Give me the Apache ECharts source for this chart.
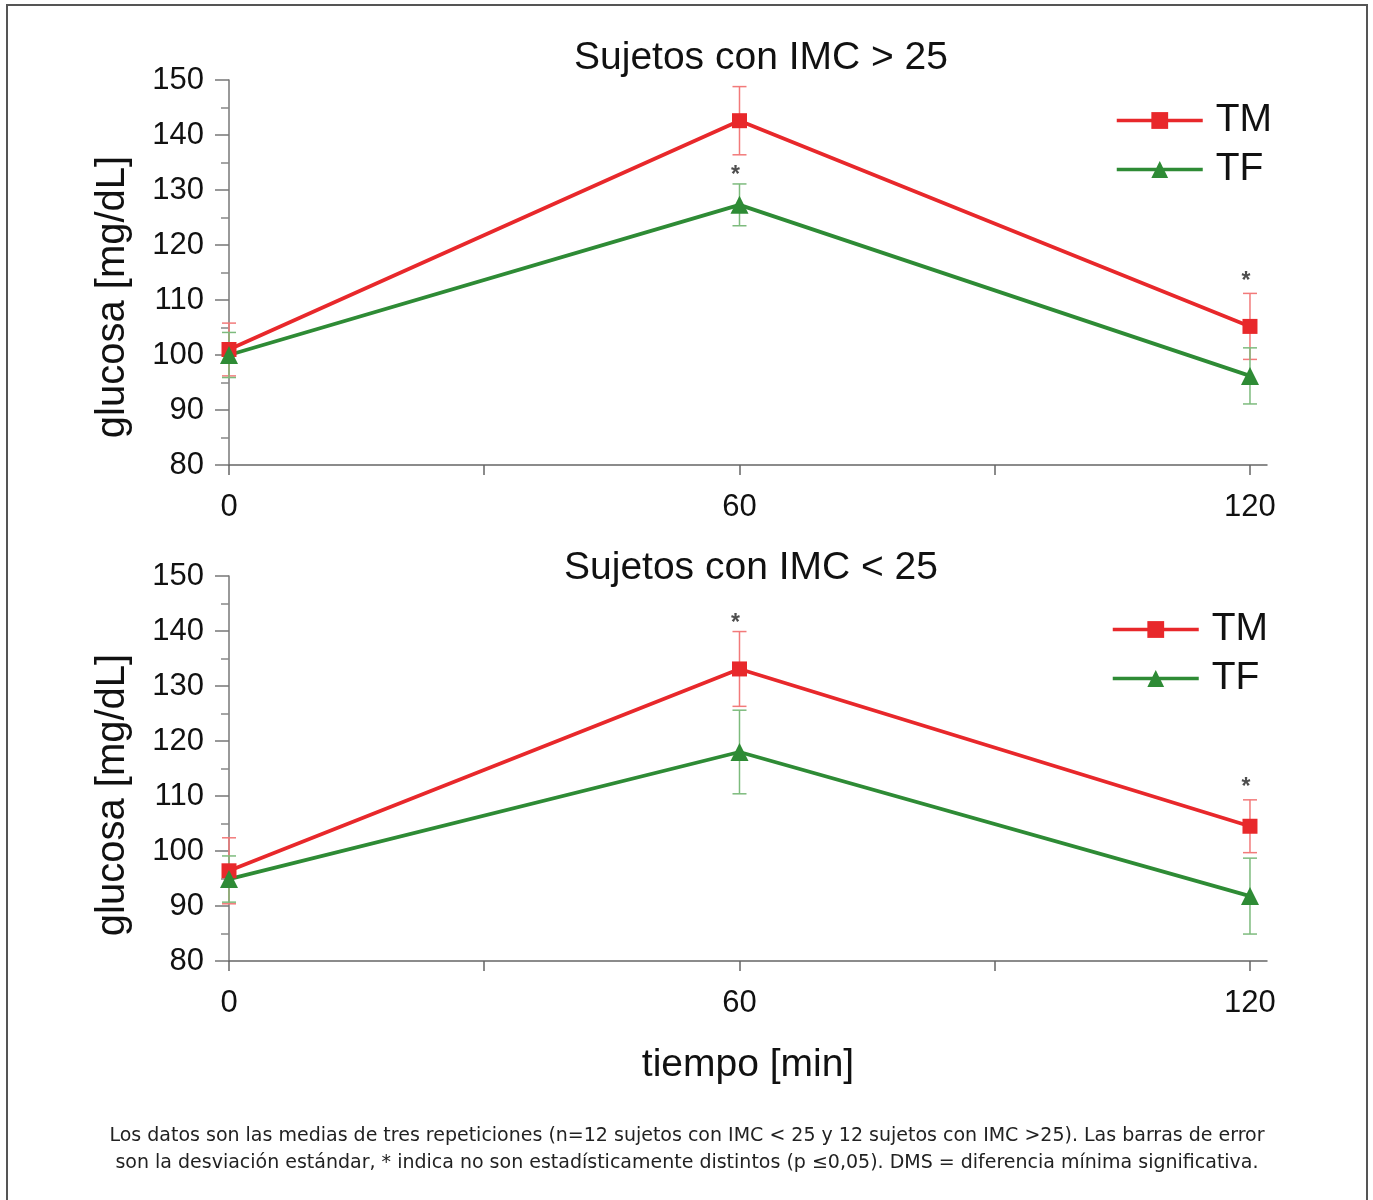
<!DOCTYPE html>
<html>
<head>
<meta charset="utf-8">
<script src="https://cdn.jsdelivr.net/npm/echarts@6/dist/echarts.min.js"></script>
<style>
  body { margin: 0; background: #fff; }
  #main { width: 1373px; height: 1200px; }
</style>
</head>
<body>
<div id="main"></div>
<script>
// datos
var tiempos = [0, 60, 120];
var titulos = ['Sujetos con IMC > 25', 'Sujetos con IMC < 25'];

// IMC > 25
var tmAlto = [101, 142.6, 105.2];
var tmAltoSd = [4.8, 6.2, 6.0];
var tfAlto = [100, 127.3, 96.2];
var tfAltoSd = [4.1, 3.8, 5.1];
var astAlto = [[60, 133.6], [120, 114.2]];

// IMC < 25
var tmBajo = [96.4, 133.1, 104.5];
var tmBajoSd = [6.0, 6.8, 4.8];
var tfBajo = [94.9, 118.0, 91.8];
var tfBajoSd = [4.2, 7.6, 6.9];
var astBajo = [[60, 142.2], [120, 112.4]];

var xTicks = [0, 30, 60, 90, 120];
var xLabels = [0, 60, 120];

var rojo = '#e8282b', rojoClaro = '#f27a7a';
var verde = '#2e8b35', verdeClaro = '#7dbb7d';
var fuente = '"Liberation Sans", Arial, sans-serif';

function pares(media) {
  var r = [];
  for (var i = 0; i < tiempos.length; i++) r.push([tiempos[i], media[i]]);
  return r;
}
function barras(media, sd) {
  var r = [];
  for (var i = 0; i < tiempos.length; i++) r.push([tiempos[i], media[i] - sd[i], media[i] + sd[i]]);
  return r;
}
function errorSerie(idx, media, sd, color) {
  return {
    type: 'custom', xAxisIndex: idx, yAxisIndex: idx, z: 1,
    data: barras(media, sd),
    encode: { x: 0, y: [1, 2] },
    renderItem: function (params, api) {
      var lo = api.coord([api.value(0), api.value(1)]);
      var hi = api.coord([api.value(0), api.value(2)]);
      var w = 7;
      var st = { stroke: color, lineWidth: 1.5 };
      return {
        type: 'group',
        children: [
          { type: 'line', shape: { x1: lo[0], y1: lo[1], x2: hi[0], y2: hi[1] }, style: st },
          { type: 'line', shape: { x1: lo[0] - w, y1: lo[1], x2: lo[0] + w, y2: lo[1] }, style: st },
          { type: 'line', shape: { x1: hi[0] - w, y1: hi[1], x2: hi[0] + w, y2: hi[1] }, style: st }
        ]
      };
    }
  };
}
function lineaSerie(idx, nombre, media, color, simbolo, tam) {
  return {
    name: nombre, type: 'line', xAxisIndex: idx, yAxisIndex: idx, z: 3,
    data: pares(media),
    symbol: simbolo, symbolSize: tam,
    lineStyle: { color: color, width: 3.8 },
    itemStyle: { color: color }
  };
}
function asteriscos(idx, datos) {
  return {
    type: 'scatter', xAxisIndex: idx, yAxisIndex: idx, symbolSize: 0,
    data: datos,
    label: { show: true, formatter: '*', position: 'inside', offset: [-4, 5],
      fontSize: 23, fontWeight: 'bold', color: '#222', fontFamily: fuente },
    silent: true
  };
}

function ejeX(idx) {
  return {
    type: 'value', gridIndex: idx, min: 0, max: 122,
    axisLine: { lineStyle: { color: '#666', width: 1.5 } },
    axisTick: { customValues: xTicks, length: 10, lineStyle: { color: '#666', width: 1.5 } },
    axisLabel: { customValues: xLabels, fontSize: 31, color: '#111', margin: 27, fontFamily: fuente },
    splitLine: { show: false },
    name: idx === 1 ? 'tiempo [min]' : '',
    nameLocation: 'middle', nameGap: 85,
    nameTextStyle: { fontSize: 39, color: '#111', fontFamily: fuente }
  };
}
function ejeY(idx) {
  return {
    type: 'value', gridIndex: idx, min: 80, max: 150, interval: 10,
    axisLine: { show: true, lineStyle: { color: '#777', width: 1.5 } },
    axisTick: { show: true, length: 14, lineStyle: { color: '#777', width: 1.5 } },
    minorTick: { show: true, splitNumber: 2, length: 8, lineStyle: { color: '#888', width: 1.5 } },
    axisLabel: { fontSize: 31, color: '#111', margin: 25, fontFamily: fuente },
    splitLine: { show: false }
  };
}
function leyenda(izq, arriba) {
  return {
    data: ['TM', 'TF'], orient: 'vertical', left: izq, top: arriba, padding: 0,
    itemWidth: 86, itemHeight: 21, itemGap: 10,
    lineStyle: { width: 3.5 },
    textStyle: { fontSize: 39, color: '#111', fontFamily: fuente, padding: [0, 0, 0, 8] },
    selectedMode: false
  };
}

var myChart = echarts.init(document.getElementById('main'));
var option = {
  animation: false,
  title: [
    { text: titulos[0], left: 756, top: 34, textAlign: 'center',
      textStyle: { fontSize: 39, fontWeight: 'normal', color: '#111', fontFamily: fuente } },
    { text: titulos[1], left: 746, top: 544, textAlign: 'center',
      textStyle: { fontSize: 39, fontWeight: 'normal', color: '#111', fontFamily: fuente } }
  ],
  legend: [leyenda(1115, 101), leyenda(1111, 610)],
  grid: [
    { left: 229, top: 80, width: 1038, height: 385 },
    { left: 229, top: 576, width: 1038, height: 385 }
  ],
  xAxis: [ejeX(0), ejeX(1)],
  yAxis: [ejeY(0), ejeY(1)],
  series: [
    errorSerie(0, tmAlto, tmAltoSd, rojoClaro),
    errorSerie(0, tfAlto, tfAltoSd, verdeClaro),
    lineaSerie(0, 'TM', tmAlto, rojo, 'rect', 15),
    lineaSerie(0, 'TF', tfAlto, verde, 'triangle', 18),
    asteriscos(0, astAlto),
    errorSerie(1, tmBajo, tmBajoSd, rojoClaro),
    errorSerie(1, tfBajo, tfBajoSd, verdeClaro),
    lineaSerie(1, 'TM', tmBajo, rojo, 'rect', 15),
    lineaSerie(1, 'TF', tfBajo, verde, 'triangle', 18),
    asteriscos(1, astBajo)
  ],
  graphic: [
    { type: 'rect', shape: { x: 7, y: 5, width: 1360, height: 1215 },
      style: { fill: 'none', stroke: '#555', lineWidth: 2 }, silent: true },
    { type: 'text', x: 113, y: 297, rotation: Math.PI / 2,
      style: { text: 'glucosa [mg/dL]', fontSize: 40, fontFamily: fuente, fill: '#111',
        align: 'center', verticalAlign: 'middle' } },
    { type: 'text', x: 113, y: 795, rotation: Math.PI / 2,
      style: { text: 'glucosa [mg/dL]', fontSize: 40, fontFamily: fuente, fill: '#111',
        align: 'center', verticalAlign: 'middle' } },
    { type: 'text', x: 687, y: 1136,
      style: { text: 'Los datos son las medias de tres repeticiones (n=12 sujetos con IMC < 25 y 12 sujetos con IMC >25). Las barras de error',
        fontSize: 19, fontFamily: '"DejaVu Sans", Tahoma, sans-serif', fill: '#222',
        align: 'center', verticalAlign: 'middle' } },
    { type: 'text', x: 687, y: 1163,
      style: { text: 'son la desviación estándar, * indica no son estadísticamente distintos (p ≤0,05). DMS = diferencia mínima significativa.',
        fontSize: 19, fontFamily: '"DejaVu Sans", Tahoma, sans-serif', fill: '#222',
        align: 'center', verticalAlign: 'middle' } }
  ]
};
myChart.setOption(option);
</script>
</body>
</html>
